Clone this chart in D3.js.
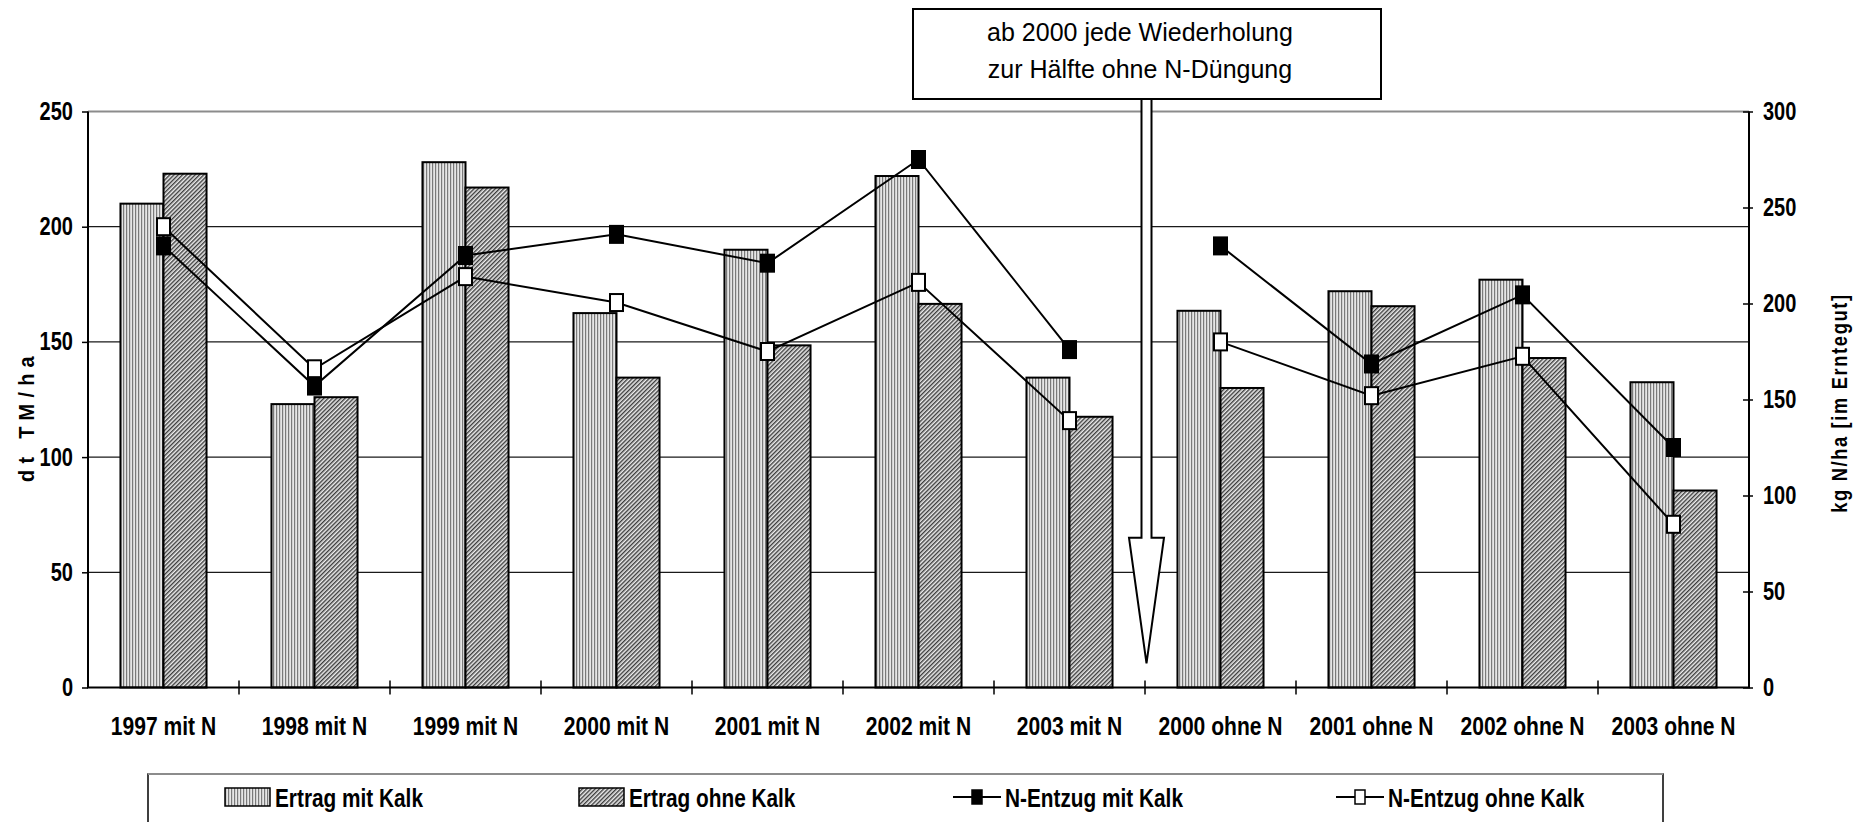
<!DOCTYPE html>
<html lang="de">
<head>
<meta charset="utf-8">
<title>Ertrag und N-Entzug</title>
<script src="https://cdn.jsdelivr.net/npm/d3@7"></script>
<style>
  body { margin: 0; background: #fff; }
  svg { display: block; }
</style>
</head>
<body>
<script>
// Kategorien (Jahr / Duengung)
var categories = ["1997 mit N", "1998 mit N", "1999 mit N", "2000 mit N", "2001 mit N", "2002 mit N",
                  "2003 mit N", "2000 ohne N", "2001 ohne N", "2002 ohne N", "2003 ohne N"];

// Ertrag in dt TM/ha (linke Achse)
var ertragMitKalk  = [210, 123, 228, 162.5, 190, 222, 134.5, 163.5, 172, 177, 132.5];
var ertragOhneKalk = [223, 126, 217, 134.5, 148.5, 166.5, 117.5, 130, 165.5, 143, 85.5];

// N-Entzug in kg N/ha (rechte Achse)
var nEntzugMitKalk  = [230, 157, 225, 236, 221, 275, 176, 230, 168.5, 204.5, 125];
var nEntzugOhneKalk = [240, 166, 214, 200.5, 175, 211, 139, 180, 152, 172.5, 85];

// Linien sind zwischen "2003 mit N" und "2000 ohne N" unterbrochen
var lineSegments = [[0, 6], [7, 10]];

var leftTicks  = [0, 50, 100, 150, 200, 250];
var rightTicks = [0, 50, 100, 150, 200, 250, 300];

var legendLabels = ["Ertrag mit Kalk", "Ertrag ohne Kalk", "N-Entzug mit Kalk", "N-Entzug ohne Kalk"];
var noteLines = ["ab 2000 jede Wiederholung", "zur Hälfte ohne N-Düngung"];

//Width and height
var w = 1862;
var h = 822;
var plotL = 88, plotR = 1749, plotT = 111.5, plotB = 687.5;

var boldFont = "'Liberation Sans', Arial, sans-serif";
var noteFont = "'Liberation Sans', Arial, sans-serif";

// squeeze bold texts horizontally (chart font is a narrow one)
function condense(sel, f) {
  sel.each(function() {
    var len = this.getComputedTextLength();
    d3.select(this)
      .attr("textLength", len * f)
      .attr("lengthAdjust", "spacingAndGlyphs");
  });
}

var svg = d3.select("body")
            .append("svg")
            .attr("width", w)
            .attr("height", h);

svg.append("rect").attr("width", w).attr("height", h).attr("fill", "#fff");

//Patterns
var defs = svg.append("defs");
var pv = defs.append("pattern")
             .attr("id", "vert")
             .attr("patternUnits", "userSpaceOnUse")
             .attr("width", 3).attr("height", 10);
pv.append("rect").attr("width", 3).attr("height", 10).attr("fill", "#e6e6e6");
pv.append("rect").attr("width", 1.2).attr("height", 10).attr("fill", "#7a7a7a");

var pd = defs.append("pattern")
             .attr("id", "diag")
             .attr("patternUnits", "userSpaceOnUse")
             .attr("width", 3).attr("height", 3)
             .attr("patternTransform", "rotate(45)");
pd.append("rect").attr("width", 3).attr("height", 3).attr("fill", "#ececec");
pd.append("rect").attr("width", 1.4).attr("height", 3).attr("fill", "#3c3c3c");

//Scales
var x = d3.scaleBand()
          .domain(categories)
          .range([plotL, plotR])
          .paddingInner(0.43)
          .paddingOuter(0.215);
var xSub = d3.scaleBand()
             .domain([0, 1])
             .range([0, x.bandwidth()]);
var yL = d3.scaleLinear().domain([0, 250]).range([plotB, plotT]);
var yR = d3.scaleLinear().domain([0, 300]).range([plotB, plotT]);

//Gridlines
svg.append("g")
   .selectAll("line")
   .data(leftTicks.filter(function(t) { return t > 0; }))
   .enter()
   .append("line")
   .attr("x1", plotL).attr("x2", plotR)
   .attr("y1", function(d) { return yL(d); })
   .attr("y2", function(d) { return yL(d); })
   .attr("stroke", function(d) { return d === 250 ? "#8c8c8c" : "#1a1a1a"; })
   .attr("stroke-width", function(d) { return d === 250 ? 2 : 1.3; });

//Bars
var barSeries = [
  { values: ertragMitKalk, fill: "url(#vert)" },
  { values: ertragOhneKalk, fill: "url(#diag)" }
];
barSeries.forEach(function(s, si) {
  svg.append("g")
     .selectAll("rect")
     .data(s.values)
     .enter()
     .append("rect")
     .attr("x", function(d, i) { return x(categories[i]) + xSub(si); })
     .attr("y", function(d) { return yL(d); })
     .attr("width", xSub.bandwidth())
     .attr("height", function(d) { return plotB - yL(d); })
     .attr("fill", s.fill)
     .attr("stroke", "#000")
     .attr("stroke-width", 2);
});

//Axis lines
var axisLines = svg.append("g").attr("stroke", "#000").attr("stroke-width", 2);
axisLines.append("line").attr("x1", plotL).attr("x2", plotL).attr("y1", plotT).attr("y2", plotB);
axisLines.append("line").attr("x1", plotR).attr("x2", plotR).attr("y1", plotT).attr("y2", plotB);
axisLines.append("line").attr("x1", plotL - 1).attr("x2", plotR + 1).attr("y1", plotB).attr("y2", plotB);

//Category separator ticks
var boundaries = d3.range(1, categories.length).map(function(i) {
  return x(categories[i]) - x.step() * x.paddingInner() / 2;
});
svg.append("g")
   .selectAll("line")
   .data(boundaries)
   .enter()
   .append("line")
   .attr("x1", function(d) { return d; })
   .attr("x2", function(d) { return d; })
   .attr("y1", plotB - 7).attr("y2", plotB + 7)
   .attr("stroke", "#000").attr("stroke-width", 1.5);

//Left axis
var gl = svg.append("g")
            .attr("transform", "translate(" + plotL + ",0)")
            .call(d3.axisLeft(yL).tickValues(leftTicks).tickSize(6).tickPadding(9));
gl.select(".domain").remove();
gl.selectAll("line").attr("stroke", "#000").attr("stroke-width", 1.5);
gl.selectAll("text")
  .attr("font-family", boldFont).attr("font-weight", "bold")
  .attr("font-size", 25).attr("fill", "#000")
  .call(condense, 0.8);

//Right axis
var gr = svg.append("g")
            .attr("transform", "translate(" + plotR + ",0)")
            .call(d3.axisRight(yR).tickValues(rightTicks).tickSize(4).tickPadding(10));
gr.select(".domain").remove();
gr.selectAll("line").attr("x1", -6).attr("stroke", "#000").attr("stroke-width", 1.5);
gr.selectAll("text")
  .attr("font-family", boldFont).attr("font-weight", "bold")
  .attr("font-size", 25).attr("fill", "#000")
  .call(condense, 0.8);

//Category labels
var gx = svg.append("g")
            .attr("transform", "translate(0," + plotB + ")")
            .call(d3.axisBottom(x).tickSize(0).tickPadding(29));
gx.select(".domain").remove();
gx.selectAll("text")
  .attr("font-family", boldFont).attr("font-weight", "bold")
  .attr("font-size", 26).attr("fill", "#000")
  .call(condense, 0.81);

//Axis titles
svg.append("text")
   .attr("transform", "translate(26,416) rotate(-90)")
   .attr("dy", "0.35em")
   .attr("text-anchor", "middle")
   .attr("font-family", boldFont).attr("font-weight", "bold")
   .attr("font-size", 22).attr("letter-spacing", 7)
   .text("dt TM/ha")
   .call(condense, 0.9);

svg.append("text")
   .attr("transform", "translate(1839,403) rotate(-90)")
   .attr("dy", "0.35em")
   .attr("text-anchor", "middle")
   .attr("font-family", boldFont).attr("font-weight", "bold")
   .attr("font-size", 22).attr("letter-spacing", 2)
   .text("kg N/ha [im Erntegut]")
   .call(condense, 0.83);

//Lines and markers
var cx = function(i) { return x(categories[i]) + x.bandwidth() / 2; };
var lineSeries = [
  { values: nEntzugOhneKalk, fill: "#fff" },
  { values: nEntzugMitKalk, fill: "#000" }
];
lineSeries.forEach(function(s) {
  var line = d3.line()
               .x(function(i) { return cx(i); })
               .y(function(i) { return yR(s.values[i]); });
  lineSegments.forEach(function(seg) {
    svg.append("path")
       .attr("d", line(d3.range(seg[0], seg[1] + 1)))
       .attr("fill", "none")
       .attr("stroke", "#000")
       .attr("stroke-width", 2);
  });
});
lineSeries.forEach(function(s) {
  svg.append("g")
     .selectAll("rect")
     .data(s.values)
     .enter()
     .append("rect")
     .attr("x", function(d, i) { return cx(i) - 6.5; })
     .attr("y", function(d) { return yR(d) - 8.5; })
     .attr("width", 13).attr("height", 17)
     .attr("fill", s.fill)
     .attr("stroke", "#000").attr("stroke-width", 2);
});

//Note with arrow
var ax = boundaries[6] + 1.5;
var arrow = [
  [ax - 5, 99], [ax + 5, 99], [ax + 5, yL(65)], [ax + 17.5, yL(65)],
  [ax, yL(10.5)], [ax - 17.5, yL(65)], [ax - 5, yL(65)]
];
svg.append("polygon")
   .attr("points", arrow.map(function(p) { return p.join(","); }).join(" "))
   .attr("fill", "#fff")
   .attr("stroke", "#000").attr("stroke-width", 2);

svg.append("rect")
   .attr("x", 913).attr("y", 9)
   .attr("width", 468).attr("height", 90)
   .attr("fill", "#fff")
   .attr("stroke", "#000").attr("stroke-width", 2);

svg.append("g")
   .selectAll("text")
   .data(noteLines)
   .enter()
   .append("text")
   .attr("x", 1140)
   .attr("y", function(d, i) { return 41 + i * 37; })
   .attr("text-anchor", "middle")
   .attr("font-family", noteFont)
   .attr("font-size", 25)
   .text(function(d) { return d; });

//Legend
svg.append("rect")
   .attr("x", 148).attr("y", 774)
   .attr("width", 1515).attr("height", 80)
   .attr("fill", "#fff")
   .attr("stroke", "#000").attr("stroke-width", 1.5);
svg.append("line")
   .attr("x1", 148).attr("x2", 1663).attr("y1", 774).attr("y2", 774)
   .attr("stroke", "#8c8c8c").attr("stroke-width", 2);

var legendX = [225, 579, 953, 1336];
var ly = 797;
var lg = svg.append("g");
lg.selectAll("rect.sw")
  .data([0, 1])
  .enter()
  .append("rect")
  .attr("class", "sw")
  .attr("x", function(d) { return legendX[d]; })
  .attr("y", ly - 9)
  .attr("width", 45).attr("height", 18)
  .attr("fill", function(d) { return barSeries[d].fill; })
  .attr("stroke", "#000").attr("stroke-width", 1.5);
[2, 3].forEach(function(d) {
  lg.append("line")
    .attr("x1", legendX[d]).attr("x2", legendX[d] + 48)
    .attr("y1", ly).attr("y2", ly)
    .attr("stroke", "#000").attr("stroke-width", 2);
  lg.append("rect")
    .attr("x", legendX[d] + 19).attr("y", ly - 7)
    .attr("width", 10).attr("height", 14)
    .attr("fill", d === 2 ? "#000" : "#fff")
    .attr("stroke", "#000").attr("stroke-width", 1.5);
});
lg.selectAll("text")
  .data(legendLabels)
  .enter()
  .append("text")
  .attr("x", function(d, i) { return legendX[i] + (i < 2 ? 50 : 52); })
  .attr("y", ly + 10)
  .attr("font-family", boldFont).attr("font-weight", "bold")
  .attr("font-size", 26)
  .text(function(d) { return d; })
  .call(condense, 0.8);
</script>
</body>
</html>
